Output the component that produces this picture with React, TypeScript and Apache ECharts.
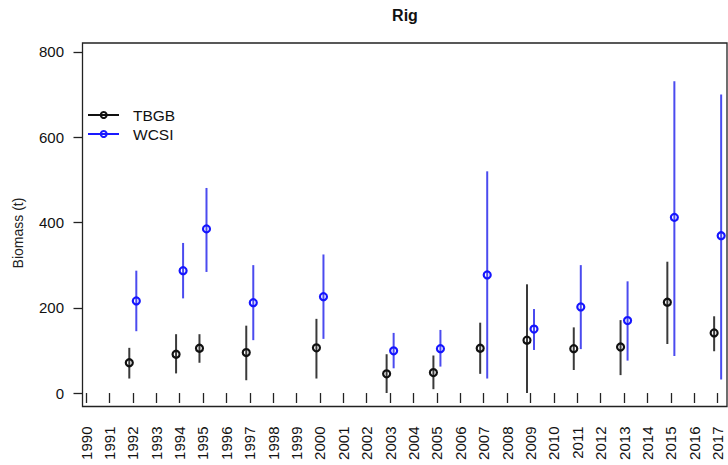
import React, { useEffect, useRef } from "react";
import * as echarts from "echarts";

const tickYears: number[] = [];
for (let y = 1990; y <= 2017; y++) tickYears.push(y);
const yTicks = [0, 200, 400, 600, 800];

const surveyYears = [1992, 1994, 1995, 1997, 2000, 2003, 2005, 2007, 2009, 2011, 2013, 2015, 2017];
const tbgbEst = [71, 91, 105, 95, 106, 45, 48, 105, 124, 104, 108, 213, 141];
const tbgbLo = [34, 46, 71, 30, 34, 0, 9, 45, 0, 54, 42, 115, 98];
const tbgbHi = [106, 138, 138, 158, 174, 91, 88, 165, 255, 154, 171, 308, 180];
const wcsiEst = [216, 287, 385, 212, 226, 99, 104, 277, 150, 202, 170, 412, 369];
const wcsiLo = [145, 222, 284, 124, 127, 58, 62, 34, 101, 103, 76, 87, 32];
const wcsiHi = [287, 352, 481, 300, 325, 141, 148, 520, 197, 300, 262, 731, 700];

const seriesNames = ["TBGB", "WCSI"];

const FONT = "'Liberation Sans', Arial, Helvetica, sans-serif";
const OFFSET = 0.15;

export default function App() {
  const ref = useRef<HTMLDivElement>(null);
  useEffect(() => {
    if (!ref.current) return;
    const chart = echarts.init(ref.current, null, { renderer: "svg" });

    const errSeries = (name: string, off: number, lo: number[], hi: number[], color: string) => ({
      type: "custom",
      name: name + "-err",
      data: surveyYears.map((y, i) => [y + off, lo[i], hi[i]]),
      encode: { x: 0, y: [1, 2] },
      z: 1,
      silent: true,
      renderItem: (_p: any, api: any) => {
        const x = api.value(0);
        const a = api.coord([x, api.value(1)]);
        const b = api.coord([x, api.value(2)]);
        return {
          type: "line",
          shape: { x1: a[0], y1: a[1], x2: b[0], y2: b[1] },
          style: { stroke: color, lineWidth: 2 },
        };
      },
    });

    const ptSeries = (name: string, off: number, est: number[], color: string) => ({
      type: "scatter",
      name,
      data: surveyYears.map((y, i) => [y + off, est[i]]),
      symbol: "circle",
      symbolSize: 7,
      itemStyle: { color: "rgba(255,255,255,0)", borderColor: color, borderWidth: 2.2, opacity: 1 },
      z: 3,
    });

    chart.setOption({
      animation: false,
      backgroundColor: "#fff",
      textStyle: { fontFamily: FONT },
      grid: {
        left: 82.5,
        right: 1,
        top: 43,
        bottom: 58.5,
        show: true,
        borderColor: "#222",
        borderWidth: 1.3,
        backgroundColor: "rgba(0,0,0,0)",
      },
      xAxis: {
        type: "value",
        min: 1989.85,
        max: 2017.4,
        axisLine: { show: false },
        splitLine: { show: false },
        axisTick: {
          show: true,
          length: 10,
          customValues: tickYears,
          lineStyle: { color: "#222", width: 1.3 },
        },
        axisLabel: {
          customValues: tickYears,
          rotate: 90,
          margin: 20,
          fontSize: 15,
          color: "#111",
          fontFamily: FONT,
          formatter: (v: number) => String(v),
        },
      },
      yAxis: {
        type: "value",
        min: -31.6,
        max: 821,
        axisLine: { show: false },
        splitLine: { show: false },
        axisTick: {
          show: true,
          length: 9,
          customValues: yTicks,
          lineStyle: { color: "#222", width: 1.3 },
        },
        axisLabel: {
          customValues: yTicks,
          margin: 18.5,
          fontSize: 15,
          color: "#111",
          fontFamily: FONT,
          formatter: (v: number) => String(v),
        },
      },
      graphic: [
        {
          type: "text",
          x: 405,
          y: 15,
          style: {
            text: "Rig",
            fontSize: 16,
            fontWeight: "bold",
            fontFamily: FONT,
            fill: "#111",
            textAlign: "center",
            textVerticalAlign: "middle",
          },
        },
        {
          type: "text",
          x: 18,
          y: 233,
          rotation: Math.PI / 2,
          style: {
            text: "Biomass (t)",
            fontSize: 14,
            fontFamily: FONT,
            fill: "#222",
            textAlign: "center",
            textVerticalAlign: "middle",
          },
        },
        {
          type: "line",
          shape: { x1: 88, y1: 115, x2: 119, y2: 115 },
          style: { stroke: "#111", lineWidth: 2 },
        },
        {
          type: "circle",
          shape: { cx: 103.7, cy: 115, r: 3 },
          style: { fill: "rgba(255,255,255,0)", stroke: "#111", lineWidth: 2 },
        },
        {
          type: "text",
          x: 133,
          y: 115,
          style: {
            text: seriesNames[0],
            fontSize: 15.5,
            fontFamily: FONT,
            fill: "#111",
            textVerticalAlign: "middle",
          },
        },
        {
          type: "line",
          shape: { x1: 88, y1: 134, x2: 119, y2: 134 },
          style: { stroke: "#1a1aff", lineWidth: 2 },
        },
        {
          type: "circle",
          shape: { cx: 103.7, cy: 134, r: 3 },
          style: { fill: "rgba(255,255,255,0)", stroke: "#1a1aff", lineWidth: 2 },
        },
        {
          type: "text",
          x: 133,
          y: 134,
          style: {
            text: seriesNames[1],
            fontSize: 15.5,
            fontFamily: FONT,
            fill: "#111",
            textVerticalAlign: "middle",
          },
        },
      ],
      series: [
        errSeries(seriesNames[0], -OFFSET, tbgbLo, tbgbHi, "#3a3a3a"),
        errSeries(seriesNames[1], OFFSET, wcsiLo, wcsiHi, "#4b4bef"),
        ptSeries(seriesNames[0], -OFFSET, tbgbEst, "#111"),
        ptSeries(seriesNames[1], OFFSET, wcsiEst, "#1515ff"),
      ],
    });
    return () => chart.dispose();
  }, []);

  return (
    <div
      ref={ref}
      style={{ position: "fixed", left: 0, top: 0, width: 728, height: 465 }}
    />
  );
}
